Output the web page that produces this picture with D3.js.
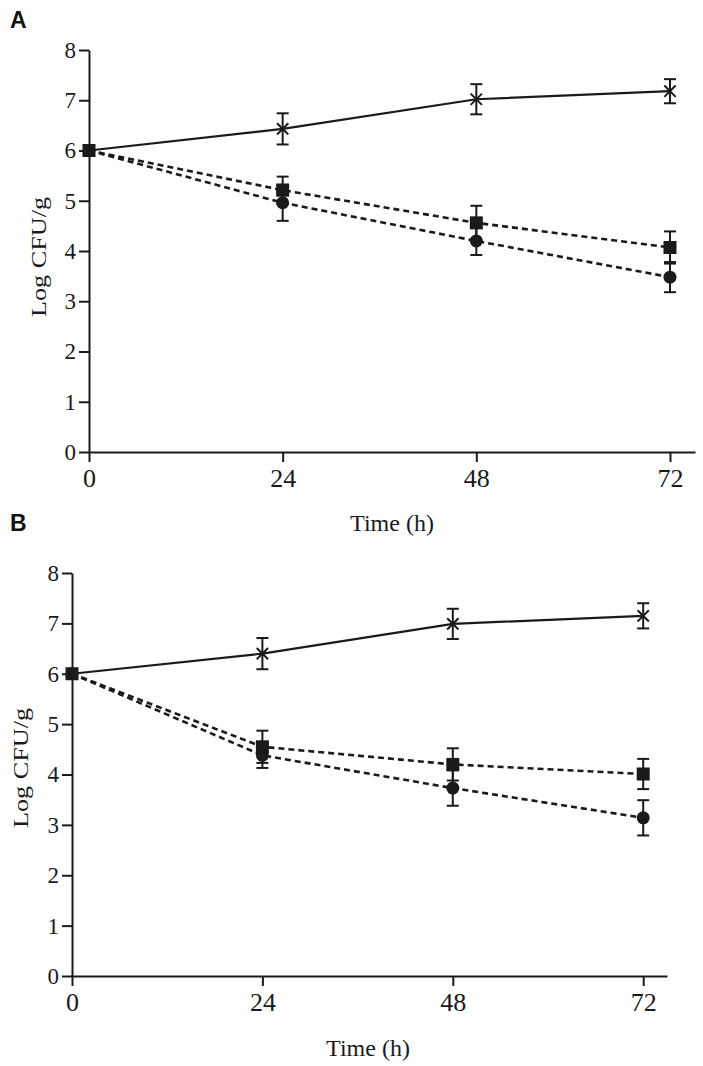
<!DOCTYPE html>
<html>
<head>
<meta charset="utf-8">
<script src="https://cdn.jsdelivr.net/npm/d3@7/dist/d3.min.js"></script>
<style>
  html, body { margin: 0; padding: 0; background: #fff; }
  svg { display: block; }
</style>
</head>
<body>
<svg id="chart" width="703" height="1066"></svg>
<script>
// ---- data ----
const times = [0, 24, 48, 72];
const xTickValues = [0, 24, 48, 72];
const yTickValues = [0, 1, 2, 3, 4, 5, 6, 7, 8];
const panelLabels = ["A", "B"];
const xTitle = "Time (h)";
const yTitle = "Log CFU/g";

// Panel A
const aStar = [6.0, 6.43, 7.02, 7.18];
const aStarErr = [0, 0.31, 0.30, 0.24];
const aSquare = [6.0, 5.21, 4.56, 4.07];
const aSquareErr = [0, 0.27, 0.34, 0.32];
const aCircle = [6.0, 4.96, 4.20, 3.48];
const aCircleErr = [0, 0.36, 0.28, 0.30];

// Panel B
const bStar = [6.0, 6.40, 6.99, 7.15];
const bStarErr = [0, 0.31, 0.30, 0.25];
const bSquare = [6.0, 4.55, 4.20, 4.01];
const bSquareErr = [0, 0.32, 0.32, 0.30];
const bCircle = [6.0, 4.38, 3.73, 3.14];
const bCircleErr = [0, 0.25, 0.35, 0.35];

// ---- layout ----
const panels = [
  { label: panelLabels[0], labelX: 10, labelY: 28,
    x0: 89, x1: 695, xMax: 75.1, yTop: 50, yBot: 452,
    yTitleX: 46, yTitleY: 257, xTitleX: 392, xTitleY: 531,
    series: [
      { v: aStar, e: aStarErr, type: "x", dash: null },
      { v: aCircle, e: aCircleErr, type: "circle", dash: "6,4" },
      { v: aSquare, e: aSquareErr, type: "square", dash: "6,4" }
    ] },
  { label: panelLabels[1], labelX: 10, labelY: 531,
    x0: 72, x1: 667, xMax: 75.0, yTop: 573, yBot: 976,
    yTitleX: 28, yTitleY: 768, xTitleX: 368, xTitleY: 1056,
    series: [
      { v: bStar, e: bStarErr, type: "x", dash: null },
      { v: bCircle, e: bCircleErr, type: "circle", dash: "6,4" },
      { v: bSquare, e: bSquareErr, type: "square", dash: "6,4" }
    ] }
];

const svg = d3.select("#chart");
const serif = "'Liberation Serif', 'Times New Roman', serif";
const ink = "#1a1a1a";

panels.forEach(p => {
  const g = svg.append("g");
  const x = d3.scaleLinear().domain([0, p.xMax]).range([p.x0, p.x1]);
  const y = d3.scaleLinear().domain([0, 8]).range([p.yBot, p.yTop]);

  // panel label
  svg.append("text")
    .attr("x", p.labelX).attr("y", p.labelY)
    .attr("font-family", "'Liberation Sans', Arial, sans-serif")
    .attr("font-weight", "bold").attr("font-size", 23)
    .attr("fill", "#111").text(p.label);

  // y axis
  const yAxis = g.append("g")
    .attr("transform", `translate(${p.x0},0)`)
    .call(d3.axisLeft(y).tickValues(yTickValues).tickSize(10).tickSizeOuter(0).tickPadding(3).tickFormat(d3.format("d")));
  yAxis.selectAll("path, line").attr("stroke", ink).attr("stroke-width", 2);
  yAxis.selectAll("text").attr("font-family", serif).attr("font-size", 23).attr("fill", ink);

  // x axis
  const xAxis = g.append("g")
    .attr("transform", `translate(0,${p.yBot})`)
    .call(d3.axisBottom(x).tickValues(xTickValues).tickSize(10).tickSizeOuter(0).tickPadding(7).tickFormat(d3.format("d")));
  xAxis.selectAll("path, line").attr("stroke", ink).attr("stroke-width", 2);
  xAxis.selectAll("text").attr("font-family", serif).attr("font-size", 26).attr("fill", ink);

  // titles
  g.append("text")
    .attr("transform", `translate(${p.yTitleX},${p.yTitleY}) rotate(-90)`)
    .attr("text-anchor", "middle")
    .attr("font-family", serif).attr("font-size", 21).attr("fill", ink)
    .attr("textLength", 120).attr("lengthAdjust", "spacingAndGlyphs")
    .text(yTitle);
  g.append("text")
    .attr("x", p.xTitleX).attr("y", p.xTitleY)
    .attr("text-anchor", "middle")
    .attr("font-family", serif).attr("font-size", 24).attr("fill", ink)
    .text(xTitle);

  const line = d3.line().x((d, i) => x(times[i])).y(d => y(d));

  // error bars
  p.series.forEach(s => {
    const eg = g.append("g");
    s.v.forEach((v, i) => {
      if (!s.e[i]) return;
      const cx = x(times[i]);
      const top = y(v + s.e[i]), bot = y(v - s.e[i]);
      eg.append("line").attr("x1", cx).attr("x2", cx).attr("y1", top).attr("y2", bot)
        .attr("stroke", ink).attr("stroke-width", 2);
      [top, bot].forEach(yy => {
        eg.append("line").attr("x1", cx - 6).attr("x2", cx + 6).attr("y1", yy).attr("y2", yy)
          .attr("stroke", ink).attr("stroke-width", 2);
      });
    });
  });

  // lines
  p.series.forEach(s => {
    g.append("path").datum(s.v)
      .attr("d", line)
      .attr("fill", "none")
      .attr("stroke", ink)
      .attr("stroke-width", s.dash ? 2.6 : 2.2)
      .attr("stroke-dasharray", s.dash);
  });

  // markers
  p.series.forEach(s => {
    s.v.forEach((v, i) => {
      const cx = x(times[i]), cy = y(v);
      if (s.type === "circle") {
        g.append("circle").attr("cx", cx).attr("cy", cy).attr("r", 6.5).attr("fill", ink);
      } else if (s.type === "square") {
        g.append("rect").attr("x", cx - 6.5).attr("y", cy - 6.5).attr("width", 13).attr("height", 13).attr("fill", ink);
      } else {
        g.append("path")
          .attr("transform", `translate(${cx},${cy})`)
          .attr("d", d3.symbol(d3.symbolTimes, 85)())
          .attr("fill", "none").attr("stroke", ink).attr("stroke-width", 2);
      }
    });
  });
});
</script>
</body>
</html>
